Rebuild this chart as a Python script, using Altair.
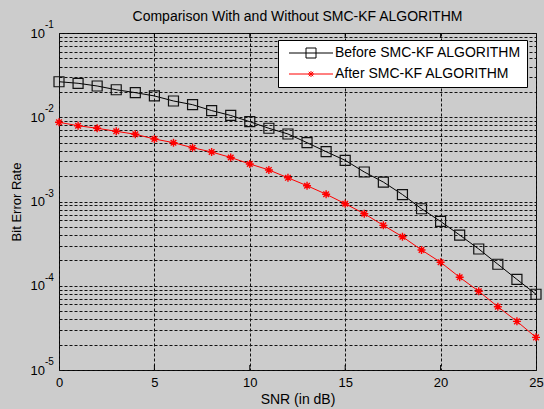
import altair as alt
import pandas as pd

# --- data -------------------------------------------------------------
snr_db = list(range(26))
ber_before = [0.0264, 0.0253, 0.0235, 0.0212, 0.0196, 0.0179, 0.0156, 0.0141,
              0.0120, 0.0105, 0.00885, 0.0074, 0.00633, 0.00499, 0.0039, 0.00308,
              0.00224, 0.0017, 0.00121, 0.00082, 0.00058, 0.0004, 0.000273,
              0.00018, 0.000119, 0.0000793]
ber_after = [0.00871, 0.00794, 0.0074, 0.00681, 0.00628, 0.00552, 0.00499,
             0.00435, 0.00387, 0.00333, 0.00279, 0.00237, 0.00191, 0.00154,
             0.00122, 0.000941, 0.000716, 0.000521, 0.000382, 0.000266, 0.00019,
             0.000126, 0.0000859, 0.0000564, 0.0000378, 0.0000244]
series_names = ["Before SMC-KF ALGORITHM", "After SMC-KF ALGORITHM"]
x_ticks = [0, 5, 10, 15, 20, 25]
decades = [1e-1, 1e-2, 1e-3, 1e-4, 1e-5]
exponents = ["-1", "-2", "-3", "-4", "-5"]
y_ticks = [m * 10.0 ** k for k in range(-5, -1) for m in range(1, 10)] + [1e-1]

# --- layout / style ---------------------------------------------------
W, H = 477, 337
FONT = "Liberation Sans"
GRID = "#111111"

SQUARE = "M-1,-1H1V1H-1Z"
ASTERISK = "M0,-1V1M-1,0H1M-0.7,-0.7L0.7,0.7M-0.7,0.7L0.7,-0.7"
LEG_SQUARE = "M-4.4,0H4.4M-1,-1H1V1H-1Z"
LEG_ASTERISK = "M-4.4,0H4.4M0,-0.6V0.6M-0.6,0H0.6M-0.45,-0.45L0.45,0.45M-0.45,0.45L0.45,-0.45"

before = pd.DataFrame({"snr": snr_db, "ber": ber_before})
after = pd.DataFrame({"snr": snr_db, "ber": ber_after})
inner_ticks = pd.DataFrame({"snr": x_ticks[1:-1]})
decade_df = pd.DataFrame({"ber": decades, "exp": exponents})
legend_df = pd.DataFrame({"series": series_names})

x_scale = alt.Scale(domain=[0, 25], nice=False, zero=False)
y_scale = alt.Scale(type="log", domain=[1e-5, 1e-1], nice=False)

x_axis = alt.Axis(
    values=x_ticks, title="SNR (in dB)", grid=True, gridDash=[3, 2],
    gridColor=GRID, gridOpacity=1, ticks=False, tickSize=0, domain=False,
    labelPadding=6, labelFontSize=13, labelFont=FONT, labelColor="black",
    labelFlush=False, labelOverlap=False,
    titleFont=FONT, titleFontSize=14, titleFontWeight="normal",
    titleColor="black", titleX=W / 2, titleY=22, titleBaseline="top",
)
y_axis = alt.Axis(
    values=y_ticks, title="Bit Error Rate", grid=True, gridDash=[3, 2],
    gridColor=GRID, gridOpacity=1, ticks=False, tickSize=0, domain=False,
    labelExpr="abs(log(datum.value)/LN10 - round(log(datum.value)/LN10)) < 1e-6 ? '10' : ''",
    labelPadding=14.5, labelFontSize=13, labelFont=FONT, labelColor="black",
    labelAlign="right", labelBaseline="middle", labelOverlap=False,
    labelFlush=False,
    titleFont=FONT, titleFontSize=13, titleFontWeight="normal",
    titleColor="black", titleX=-43, titleY=H / 2, titleAngle=270,
    titleAlign="center", titleBaseline="middle",
)

X = alt.X("snr:Q", scale=x_scale, axis=x_axis)
Y = alt.Y("ber:Q", scale=y_scale, axis=y_axis)

line_before = alt.Chart(before).mark_line(color="black", strokeWidth=1).encode(x=X, y=Y)
pts_before = alt.Chart(before).mark_point(
    shape=SQUARE, size=100, color="#111111", filled=False, opacity=1, strokeWidth=1.2
).encode(x="snr:Q", y="ber:Q")

line_after = alt.Chart(after).mark_line(color="#ff0000", strokeWidth=1).encode(x="snr:Q", y="ber:Q")
pts_after = alt.Chart(after).mark_point(
    shape=ASTERISK, size=64, color="#ff0000", filled=False, opacity=1, strokeWidth=1.4
).encode(x="snr:Q", y="ber:Q")

# short inward tick marks on the top and bottom frame
ticks_bottom = alt.Chart(inner_ticks).mark_rule(color="black", strokeWidth=1).encode(
    x="snr:Q", y=alt.value(H), y2=alt.value(H - 5))
ticks_top = alt.Chart(inner_ticks).mark_rule(color="black", strokeWidth=1).encode(
    x="snr:Q", y=alt.value(0), y2=alt.value(5))

# exponents of the decade labels
exp_text = alt.Chart(decade_df).mark_text(
    align="left", baseline="alphabetic", fontSize=10, font=FONT, color="black", dy=-5
).encode(x=alt.value(-14), y="ber:Q", text="exp:N")

leg = alt.Legend(
    title=None, orient="none", legendX=219, legendY=7,
    fillColor="white", strokeColor="black", padding=6,
    symbolOffset=20, labelOffset=17, rowPadding=7,
    labelFontSize=14, labelFont=FONT, labelColor="black", labelLimit=400,
    symbolSize=100, symbolStrokeWidth=1, symbolOpacity=1,
)
legend_layer = alt.Chart(legend_df).transform_filter("false").mark_point(
    size=100, filled=False, opacity=1, strokeWidth=1
).encode(
    color=alt.Color("series:N", scale=alt.Scale(domain=series_names, range=["black", "#ff0000"]), legend=leg),
    shape=alt.Shape("series:N", scale=alt.Scale(domain=series_names, range=[LEG_SQUARE, LEG_ASTERISK]), legend=leg),
)

chart = alt.layer(
    line_before, pts_before, line_after, pts_after,
    ticks_bottom, ticks_top, exp_text, legend_layer,
).properties(
    width=W, height=H,
    padding={"left": 59, "top": 33, "right": 8, "bottom": 39},
    autosize=alt.AutoSizeParams(type="none"),
    background="#cccccc",
    title=alt.TitleParams(
        text="Comparison With and Without SMC-KF ALGORITHM",
        font=FONT, fontSize=14, fontWeight="normal", color="black",
        anchor="middle", frame="group", baseline="alphabetic", offset=0, dy=15,
    ),
).configure_view(stroke="black", strokeWidth=1, fill="white")

chart.save("out.html", embed_options={"renderer": "svg", "actions": False})
